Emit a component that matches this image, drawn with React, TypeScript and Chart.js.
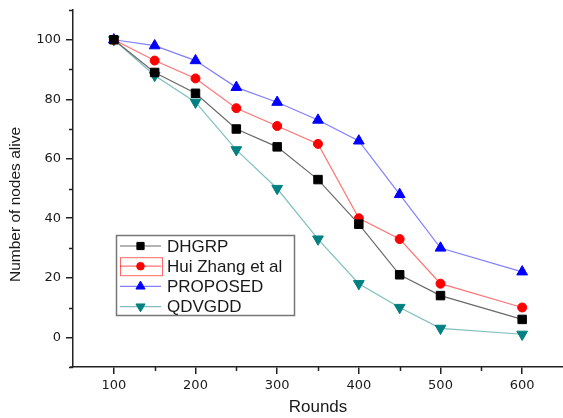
import React, { useEffect, useRef } from "react";
import { Chart, registerables } from "chart.js";

Chart.register(...registerables);

const rounds = [100, 150, 200, 250, 300, 350, 400, 450, 500, 600];
const dhgrp = [100, 89, 82, 70, 64, 53, 38, 21, 14, 6];
const huiZhang = [100, 93, 87, 77, 71, 65, 40, 33, 18, 10];
const proposed = [100, 98, 93, 84, 79, 73, 66, 48, 30, 22];
const qdvgdd = [100, 88, 79, 63, 50, 33, 18, 10, 3, 1];

const seriesNames = ["DHGRP", "Hui Zhang et al", "PROPOSED", "QDVGDD"];
const xTicks = [100, 200, 300, 400, 500, 600];
const yTicks = [0, 20, 40, 60, 80, 100];
const xMinor = [150, 250, 350, 450, 550];
const yMinor = [-10, 10, 30, 50, 70, 90, 110];
const xTitle = "Rounds";
const yTitle = "Number of nodes alive";

const TEXT = "#1a1a1a";
const AXIS = "#222";

const styles = [
  { line: "#6a6a6a", point: "#000000", shape: "rect", radius: 6, rotation: 0 },
  { line: "rgba(255,0,0,0.55)", point: "#ff0000", shape: "circle", radius: 4.5, rotation: 0 },
  { line: "rgba(0,0,255,0.5)", point: "#0000ff", shape: "triangle", radius: 6.2, rotation: 0 },
  { line: "rgba(0,128,128,0.5)", point: "#008080", shape: "triangle", radius: 6.2, rotation: 180 },
];

function drawMarker(ctx: CanvasRenderingContext2D, shape: string, r: number, rot: number, x: number, y: number) {
  ctx.beginPath();
  if (shape === "rect") {
    const s = r / Math.SQRT2;
    ctx.rect(x - s, y - s, 2 * s, 2 * s);
  } else if (shape === "circle") {
    ctx.arc(x, y, r, 0, Math.PI * 2);
  } else {
    let a = (rot * Math.PI) / 180;
    for (let k = 0; k < 3; k++) {
      const px = x + Math.sin(a) * r;
      const py = y - Math.cos(a) * r;
      if (k === 0) ctx.moveTo(px, py);
      else ctx.lineTo(px, py);
      a += (2 * Math.PI) / 3;
    }
    ctx.closePath();
  }
  ctx.fill();
  ctx.stroke();
}

const overlayPlugin = {
  id: "overlay",
  afterDraw(chart: any) {
    const ctx = chart.ctx as CanvasRenderingContext2D;
    const xs = chart.scales.x;
    const ys = chart.scales.y;
    const area = chart.chartArea;
    ctx.save();
    ctx.strokeStyle = AXIS;
    ctx.lineWidth = 1.5;
    ctx.beginPath();
    xMinor.forEach((v) => {
      const px = Math.round(xs.getPixelForValue(v)) + 0.5;
      ctx.moveTo(px, area.bottom);
      ctx.lineTo(px, area.bottom + 4);
    });
    yMinor.forEach((v) => {
      const py = Math.round(ys.getPixelForValue(v)) + 0.5;
      ctx.moveTo(area.left, py);
      ctx.lineTo(area.left - 4, py);
    });
    ctx.moveTo(area.left, area.bottom);
    ctx.lineTo(area.left - 3, area.bottom);
    ctx.stroke();

    ctx.fillStyle = TEXT;
    ctx.font = "15.5px 'Liberation Sans', Arial, sans-serif";
    ctx.textAlign = "center";
    ctx.textBaseline = "middle";
    ctx.translate(16, (area.top + area.bottom) / 2 + 16);
    ctx.rotate(-Math.PI / 2);
    ctx.fillText(yTitle, 0, 0);
    ctx.restore();

    ctx.save();
    const lx = area.left + 43;
    const ly = area.top + 225;
    const lw = 178;
    const lh = 80;
    ctx.fillStyle = "#fff";
    ctx.fillRect(lx, ly, lw, lh);
    ctx.strokeStyle = "#777";
    ctx.lineWidth = 1.5;
    ctx.strokeRect(lx + 0.5, ly + 0.5, lw, lh);
    ctx.font = "17px 'Liberation Sans', Arial, sans-serif";
    ctx.textBaseline = "middle";
    ctx.textAlign = "left";
    seriesNames.forEach((name, i) => {
      const st = styles[i];
      const cy = ly + 11 + i * 20.2;
      const x0 = lx + 4;
      const x1 = lx + 45;
      if (i === 1) {
        ctx.strokeStyle = "rgba(255,0,0,0.6)";
        ctx.lineWidth = 1;
        ctx.strokeRect(x0 + 0.5, cy - 8.5, 42, 18);
      }
      ctx.strokeStyle = st.line;
      ctx.lineWidth = 1.2;
      ctx.beginPath();
      ctx.moveTo(x0, cy);
      ctx.lineTo(x1, cy);
      ctx.stroke();
      ctx.fillStyle = st.point;
      ctx.strokeStyle = st.point;
      ctx.lineWidth = 1;
      drawMarker(ctx, st.shape, st.radius * 0.85, st.rotation, (x0 + x1) / 2, cy);
      ctx.fillStyle = TEXT;
      ctx.fillText(name, lx + 51, cy + 1);
    });
    ctx.restore();
  },
};

export default function App() {
  const ref = useRef<HTMLCanvasElement | null>(null);
  useEffect(() => {
    if (!ref.current) return;
    const all = [dhgrp, huiZhang, proposed, qdvgdd];
    const chart = new Chart(ref.current, {
      type: "line",
      data: {
        datasets: all.map((arr, i) => ({
          label: seriesNames[i],
          data: rounds.map((x, j) => ({ x, y: arr[j] })),
          borderColor: styles[i].line,
          borderWidth: 1.2,
          pointStyle: styles[i].shape as any,
          pointRadius: styles[i].radius,
          pointRotation: styles[i].rotation,
          pointBackgroundColor: styles[i].point,
          pointBorderColor: styles[i].point,
          pointBorderWidth: 1,
          tension: 0,
          fill: false,
        })),
      },
      options: {
        responsive: false,
        animation: false,
        layout: { autoPadding: false, padding: { top: 10, right: 0, left: 0, bottom: 0 } },
        plugins: { legend: { display: false }, tooltip: { enabled: false } },
        scales: {
          x: {
            type: "linear",
            min: 50,
            max: 650,
            afterBuildTicks: (s: any) => {
              s.ticks = xTicks.map((v) => ({ value: v }));
            },
            afterFit: (s: any) => {
              s.height = 51;
              s.paddingLeft = 0;
              s.paddingRight = 0;
            },
            grid: {
              display: true,
              drawOnChartArea: false,
              drawTicks: true,
              tickLength: 7,
              color: AXIS,
              lineWidth: 1.5,
            },
            border: { display: true, color: AXIS, width: 1.5 },
            ticks: {
              autoSkip: false,
              maxRotation: 0,
              padding: 4,
              color: TEXT,
              font: { family: "'DejaVu Sans', sans-serif", size: 13 },
            },
            title: {
              display: true,
              text: xTitle,
              color: TEXT,
              font: { family: "'Liberation Sans', Arial, sans-serif", size: 17 },
              padding: { top: 0, bottom: 0 },
            },
          },
          y: {
            type: "linear",
            min: -10,
            max: 110,
            afterBuildTicks: (s: any) => {
              s.ticks = yTicks.map((v) => ({ value: v }));
            },
            afterFit: (s: any) => {
              s.width = 73;
              s.paddingTop = 0;
              s.paddingBottom = 0;
            },
            grid: {
              display: true,
              drawOnChartArea: false,
              drawTicks: true,
              tickLength: 7,
              color: AXIS,
              lineWidth: 1.5,
            },
            border: { display: true, color: AXIS, width: 1.5 },
            ticks: {
              autoSkip: false,
              padding: 5,
              color: TEXT,
              font: { family: "'DejaVu Sans', sans-serif", size: 13 },
            },
          },
        },
      },
      plugins: [overlayPlugin],
    } as any);
    return () => chart.destroy();
  }, []);
  return (
    <div style={{ position: "absolute", left: 0, top: 0, width: 563, height: 418, background: "#fff" }}>
      <canvas ref={ref} width={563} height={418} />
    </div>
  );
}
